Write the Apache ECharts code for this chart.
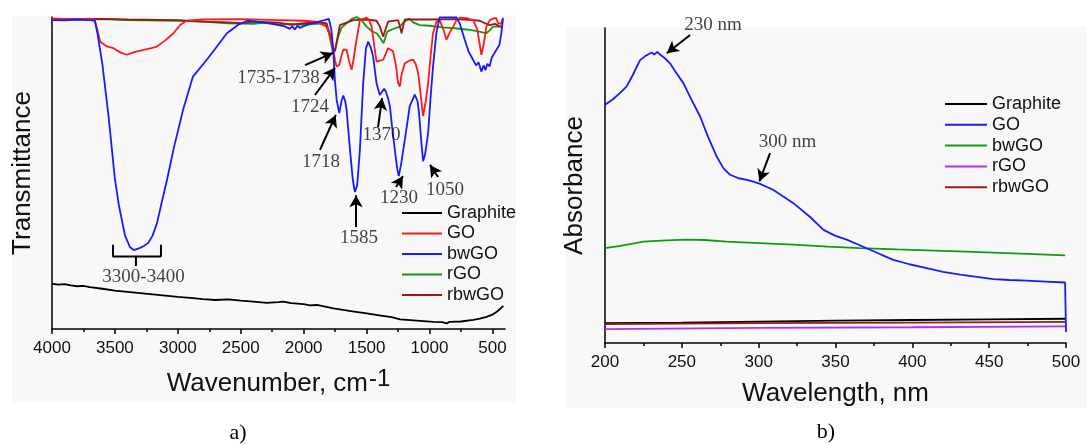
<!DOCTYPE html>
<html><head><meta charset="utf-8">
<script src="https://cdn.jsdelivr.net/npm/echarts@6/dist/echarts.min.js"></script>
<style>html,body{margin:0;padding:0;background:#fff}#c{width:1087px;height:445px}</style>
</head><body><div id="c"></div><script>
// ---------- Panel a) FTIR (wavenumber, relative transmittance) ----------
const ftirMajorTicks = [4000, 3500, 3000, 2500, 2000, 1500, 1000, 500];
const ftirMinorTicks = [3750, 3250, 2750, 2250, 1750, 1250, 750];
const ftirLegend = ['Graphite', 'GO', 'bwGO', 'rGO', 'rbwGO'];
const ftirColors = ['#000000', '#ff1a1a', '#1a1aff', '#109a10', '#9a1a1a'];

const ftirGraphite = [[4000,14.5],[3950,14.2],[3900,14.4],[3850,14.0],[3800,13.7],[3750,13.8],[3700,13.4],[3600,12.9],[3500,12.3],[3400,11.9],[3300,11.5],[3200,11.1],[3100,10.7],[3000,10.3],[2900,10.0],[2800,9.6],[2700,9.3],[2600,9.5],[2500,9.1],[2400,8.8],[2294,8.4],[2200,8.6],[2162,8.8],[2100,8.3],[2000,8.0],[1950,7.6],[1896,7.7],[1800,6.9],[1764,6.6],[1700,6.2],[1600,5.6],[1499,5.0],[1400,4.4],[1300,3.8],[1234,3.1],[1100,2.7],[970,2.3],[900,2.2],[863,1.8],[840,2.3],[750,2.4],[652,2.9],[600,3.3],[546,3.9],[500,4.6],[466,5.5],[440,6.4],[413,7.4]];

const ftirGO = [[4000,99.5],[3800,99.3],[3700,99.5],[3660,99.0],[3640,96.0],[3617,92.1],[3560,90.5],[3511,90.0],[3450,88.5],[3405,87.9],[3340,88.8],[3273,89.5],[3210,90.0],[3167,90.5],[3100,92.5],[3035,94.8],[2980,97.5],[2929,98.8],[2800,99.2],[2500,99.3],[2200,99.0],[2000,98.8],[1900,98.5],[1818,96.9],[1790,94.0],[1765,89.5],[1750,86.0],[1738,84.1],[1725,84.3],[1717,84.7],[1700,87.5],[1685,89.5],[1670,90.0],[1659,89.5],[1640,86.0],[1619,83.1],[1605,86.0],[1593,89.5],[1570,95.0],[1553,99.0],[1500,99.8],[1480,99.0],[1460,96.9],[1440,91.0],[1421,85.7],[1395,86.0],[1368,86.3],[1345,88.5],[1329,90.0],[1310,89.5],[1289,89.0],[1265,84.0],[1250,79.0],[1236,77.7],[1220,82.0],[1196,85.2],[1160,86.0],[1130,86.3],[1110,85.0],[1090,82.0],[1070,75.0],[1051,68.2],[1030,73.0],[1011,78.8],[990,88.0],[972,94.8],[945,98.5],[919,99.0],[890,96.0],[865,92.7],[840,95.0],[812,96.9],[785,99.0],[759,99.8],[700,99.6],[654,99.0],[620,96.0],[600,91.0],[588,87.9],[570,91.0],[548,96.9],[520,99.0],[495,99.5],[470,99.7],[455,98.0],[443,98.5],[430,97.8],[416,99.8]];

const ftirBwGO = [[4000,99.0],[3900,98.9],[3800,99.2],[3700,99.0],[3660,98.8],[3640,95.0],[3600,85.0],[3550,68.0],[3500,48.0],[3470,40.0],[3420,30.0],[3380,26.2],[3350,25.3],[3300,26.0],[3270,26.6],[3235,27.6],[3200,30.0],[3165,34.0],[3120,42.0],[3085,48.0],[3035,57.5],[2960,70.0],[2880,80.9],[2770,86.3],[2700,90.0],[2610,94.8],[2520,97.5],[2450,98.8],[2350,98.4],[2250,97.8],[2150,97.0],[2110,96.2],[2090,97.0],[2070,96.0],[2050,97.2],[2030,96.5],[1990,97.2],[1950,97.8],[1900,98.3],[1850,98.8],[1800,99.4],[1780,96.0],[1765,89.5],[1752,79.9],[1738,73.5],[1717,69.2],[1700,73.0],[1685,74.8],[1670,73.0],[1659,70.3],[1632,57.5],[1610,48.0],[1593,43.9],[1575,46.0],[1553,57.5],[1527,78.8],[1505,90.0],[1487,92.1],[1465,90.0],[1448,87.3],[1421,78.8],[1395,75.0],[1381,75.6],[1360,77.0],[1347,76.1],[1330,74.0],[1315,71.4],[1295,64.0],[1276,57.5],[1255,51.0],[1244,49.0],[1225,53.0],[1196,60.7],[1157,71.4],[1117,75.1],[1095,73.0],[1083,69.2],[1065,60.0],[1051,53.8],[1035,56.0],[1011,62.8],[990,75.0],[972,84.1],[945,95.0],[919,99.9],[786,99.9],[760,98.0],[720,92.7],[690,89.0],[654,86.3],[630,84.5],[610,85.5],[588,82.5],[570,84.5],[555,83.0],[540,85.0],[522,84.2],[505,87.0],[490,86.5],[468,89.5],[445,91.0],[429,94.8],[416,99.5]];

const ftirRGO = [[4000,99.3],[3800,99.2],[3600,99.3],[3400,99.0],[3000,98.8],[2800,98.5],[2600,98.0],[2400,97.8],[2300,98.2],[2200,97.6],[2100,97.8],[2000,97.5],[1900,97.8],[1831,98.0],[1800,95.0],[1780,91.0],[1765,88.4],[1750,89.5],[1725,93.7],[1700,96.5],[1659,98.0],[1620,99.3],[1580,100.0],[1540,99.0],[1500,96.9],[1460,95.5],[1421,94.8],[1395,93.5],[1365,91.6],[1350,93.5],[1335,95.3],[1300,96.0],[1236,96.9],[1200,98.5],[1160,99.5],[1130,98.3],[1077,97.4],[1000,97.2],[892,96.7],[800,96.4],[706,96.0],[620,95.5],[570,95.0],[548,94.8],[520,95.8],[495,96.9],[416,96.9]];

const ftirRbwGO = [[4000,99.5],[3800,99.3],[3600,99.4],[3400,99.2],[3000,99.0],[2800,98.5],[2600,98.3],[2500,98.0],[2400,98.5],[2200,98.2],[2100,97.5],[2000,98.0],[1900,98.3],[1818,98.0],[1795,95.0],[1778,92.7],[1765,90.0],[1752,89.0],[1738,92.0],[1712,97.4],[1606,99.0],[1500,99.2],[1421,98.8],[1395,97.0],[1368,93.7],[1350,96.0],[1329,98.5],[1249,99.0],[1235,97.0],[1222,94.8],[1210,97.0],[1196,99.2],[1000,99.2],[800,99.3],[650,99.0],[600,98.8],[560,98.0],[522,97.4],[480,97.8],[440,97.0],[416,96.9]];

// annotation texts anchored in data coordinates [wavenumber, value, text]
const ftirPeakLabels = [[2200,80.4,'1735-1738'],[1950,71.2,'1724'],[1862,53.5,'1718'],[1381,62.2,'1370'],[1560,29.2,'1585'],[1242,42.0,'1230'],[877,44.6,'1050'],[3273,16.8,'3300-3400']];
const ftirArrows = [[[1989,84.6],[1767,88.5]],[[1910,75.0],[1751,83.7]],[[1870,57.4],[1745,68.6]],[[1409,64.7],[1377,74.0]],[[1584,32.7],[1584,42.9]],[[1266,45.5],[1211,49.0]],[[932,48.7],[996,52.6]]];
const ftirBracket = [[3515,27.0],[3515,23.2],[3333,23.2],[3333,20.2],[3333,23.2],[3134,23.2],[3134,27.0]];

// ---------- Panel b) UV-Vis (wavelength nm, absorbance) ----------
const uvLegend = ['Graphite', 'GO', 'bwGO', 'rGO', 'rbwGO'];
const uvColors = ['#000000', '#1a1aff', '#109a10', '#b030f0', '#9a1a1a'];
const uvGraphite = [[200,6.3],[250,6.5],[300,6.8],[350,7.1],[400,7.3],[450,7.5],[500,7.7]];
const uvGO = [[200,75.6],[205,77.3],[210,79.5],[214,81.4],[218,85.0],[222.8,89.8],[226,91.0],[228,91.6],[230.4,92.2],[232,91.6],[234,92.4],[236,91.5],[239,90.4],[242.3,88.8],[246,86.0],[251,82.5],[256,77.5],[261.9,71.9],[267,65.5],[272.7,59.2],[277,55.5],[281.4,53.4],[287,52.3],[292.3,51.8],[296,51.3],[300.9,50.5],[305,49.6],[309.6,48.6],[316,46.5],[322.6,44.4],[333.5,40.0],[342.2,35.9],[350,34.0],[357.3,32.8],[365,31.2],[372.5,29.6],[380,28.0],[387.7,26.4],[398,25.0],[409.4,23.8],[420,22.6],[431.1,21.7],[442,21.0],[452.8,20.3],[463,20.0],[474.5,19.8],[487,19.5],[499.4,19.2],[500,19.2],[500,3.5]];
const uvBwGO = [[200,30.1],[210,30.8],[225,32.2],[240,32.6],[253,32.8],[265,32.7],[279,32.2],[300,31.7],[322.6,31.2],[345,30.6],[366,30.1],[390,29.7],[409.4,29.4],[430,29.1],[452.8,28.7],[475,28.3],[499.4,27.8]];
const uvRGO = [[200,4.4],[300,4.8],[400,5.0],[500,5.3]];
const uvRbwGO = [[200,6.0],[300,6.3],[400,6.5],[500,6.7]];
const uvPeakLabels = [[270.3,101.0,'230 nm'],[318.8,63.9,'300 nm']];
const uvArrows = [[[255.4,97.8],[240.2,92.0]],[[307.4,60.3],[300.5,51.3]]];

// ---------- chart ----------
const SANS = 'Liberation Sans, Arial, sans-serif';
const SERIF = 'Liberation Serif, Times New Roman, serif';
const TEXT = '#111';
const chart = echarts.init(document.getElementById('c'), null, {renderer: 'canvas'});

function lineSeries(name, data, color, xi, yi) {
  return {type: 'line', name: name, data: data, xAxisIndex: xi, yAxisIndex: yi,
    showSymbol: false, symbol: 'none', silent: true, animation: false,
    lineStyle: {color: color, width: 1.8}, itemStyle: {color: color}, z: 3};
}
function annotationSeries(labels, arrows, xi, yi) {
  return {type: 'scatter', xAxisIndex: xi, yAxisIndex: yi, silent: true, animation: false,
    symbolSize: 0, z: 5, clip: false,
    data: labels.map(l => ({value: [l[0], l[1]], name: l[2]})),
    label: {show: true, position: 'inside', formatter: '{b}', fontFamily: SERIF, fontSize: 19, color: TEXT},
    markLine: {silent: true, animation: false, symbol: ['none', 'arrow'], symbolSize: [10, 12],
      label: {show: false}, lineStyle: {color: '#000', width: 2, type: 'solid'},
      data: arrows.map(a => [{coord: a[0]}, {coord: a[1]}])}};
}
const axisLineStyle = {color: '#000', width: 1.5};
const plainNumber = v => String(v);

const option = {
  backgroundColor: '#ffffff',
  animation: false,
  graphic: [
    {type: 'rect', z: -10, shape: {x: 12, y: 16, width: 504, height: 386}, style: {fill: '#f8f8f8'}},
    {type: 'rect', z: -10, shape: {x: 566, y: 27, width: 521, height: 381}, style: {fill: '#f8f8f8'}},
    {type: 'text', z: 10, style: {text: 'a)', x: 238, y: 433, align: 'center', verticalAlign: 'middle', font: '22px ' + SERIF, fill: '#000'}},
    {type: 'text', z: 10, style: {text: 'b)', x: 826, y: 432, align: 'center', verticalAlign: 'middle', font: '22px ' + SERIF, fill: '#000'}}
  ],
  grid: [
    {left: 52, top: 17, width: 453, height: 312},
    {left: 605, top: 28, width: 461, height: 315}
  ],
  legend: [
    {orient: 'vertical', left: 397, top: 198, itemWidth: 40, itemHeight: 2, itemGap: 0.5, icon: 'rect', selectedMode: false,
     textStyle: {fontFamily: SANS, fontSize: 18, color: TEXT, lineHeight: 20},
     data: ftirLegend.map((n, i) => ({name: n, itemStyle: {color: ftirColors[i]}}))},
    {orient: 'vertical', left: 940, top: 89, itemWidth: 42, itemHeight: 2, itemGap: 0.8, icon: 'rect', selectedMode: false,
     textStyle: {fontFamily: SANS, fontSize: 18, color: TEXT, lineHeight: 20},
     data: uvLegend.map((n, i) => ({name: n, itemStyle: {color: uvColors[i]}}))}
  ],
  xAxis: [
    {gridIndex: 0, type: 'value', min: 400, max: 4000, inverse: true, position: 'bottom',
     axisLine: {onZero: false, lineStyle: axisLineStyle},
     axisTick: {show: true, customValues: ftirMajorTicks, length: 5, lineStyle: axisLineStyle},
     axisLabel: {customValues: ftirMajorTicks, formatter: plainNumber, fontFamily: SANS, fontSize: 17, color: TEXT, margin: 11},
     splitLine: {show: false},
     name: '{t|Wavenumber, cm}{s|-1}', nameLocation: 'middle', nameGap: 38,
     nameTextStyle: {rich: {t: {fontFamily: SANS, fontSize: 26, color: TEXT}, s: {fontFamily: SANS, fontSize: 24, color: TEXT, padding: [0, 0, 10, 1]}}}},
    {gridIndex: 0, type: 'value', min: 400, max: 4000, inverse: true, position: 'bottom',
     axisLine: {show: false, onZero: false},
     axisTick: {show: true, customValues: ftirMinorTicks, length: 3, lineStyle: axisLineStyle},
     axisLabel: {show: false}, splitLine: {show: false}},
    {gridIndex: 1, type: 'value', min: 200, max: 500, interval: 50, position: 'bottom',
     axisLine: {onZero: false, lineStyle: axisLineStyle},
     axisTick: {show: true, length: 5, lineStyle: axisLineStyle},
     minorTick: {show: true, splitNumber: 2, length: 3, lineStyle: axisLineStyle},
     axisLabel: {formatter: plainNumber, fontFamily: SANS, fontSize: 17, color: TEXT, margin: 11},
     splitLine: {show: false},
     name: 'Wavelength, nm', nameLocation: 'middle', nameGap: 38,
     nameTextStyle: {fontFamily: SANS, fontSize: 26, color: TEXT}}
  ],
  yAxis: [
    {gridIndex: 0, type: 'value', min: 0, max: 100,
     axisLine: {show: true, onZero: false, lineStyle: axisLineStyle}, axisTick: {show: false}, axisLabel: {show: false}, splitLine: {show: false},
     name: 'Transmittance', nameLocation: 'middle', nameGap: 16, nameTextStyle: {fontFamily: SANS, fontSize: 26, color: TEXT}},
    {gridIndex: 1, type: 'value', min: 0, max: 100,
     axisLine: {show: true, onZero: false, lineStyle: axisLineStyle}, axisTick: {show: false}, axisLabel: {show: false}, splitLine: {show: false},
     name: 'Absorbance', nameLocation: 'middle', nameGap: 17, nameTextStyle: {fontFamily: SANS, fontSize: 26, color: TEXT}}
  ],
  series: [
    lineSeries('Graphite', ftirGraphite, ftirColors[0], 0, 0),
    lineSeries('rGO', ftirRGO, ftirColors[3], 0, 0),
    lineSeries('rbwGO', ftirRbwGO, ftirColors[4], 0, 0),
    lineSeries('GO', ftirGO, ftirColors[1], 0, 0),
    lineSeries('bwGO', ftirBwGO, ftirColors[2], 0, 0),
    {type: 'line', data: ftirBracket, xAxisIndex: 0, yAxisIndex: 0, showSymbol: false, symbol: 'none', silent: true,
     lineStyle: {color: '#000', width: 2}, z: 4},
    annotationSeries(ftirPeakLabels, ftirArrows, 0, 0),
    lineSeries('Graphite', uvGraphite, uvColors[0], 2, 1),
    lineSeries('rbwGO', uvRbwGO, uvColors[4], 2, 1),
    lineSeries('rGO', uvRGO, uvColors[3], 2, 1),
    lineSeries('bwGO', uvBwGO, uvColors[2], 2, 1),
    lineSeries('GO', uvGO, uvColors[1], 2, 1),
    annotationSeries(uvPeakLabels, uvArrows, 2, 1)
  ]
};
chart.setOption(option);
</script></body></html>
